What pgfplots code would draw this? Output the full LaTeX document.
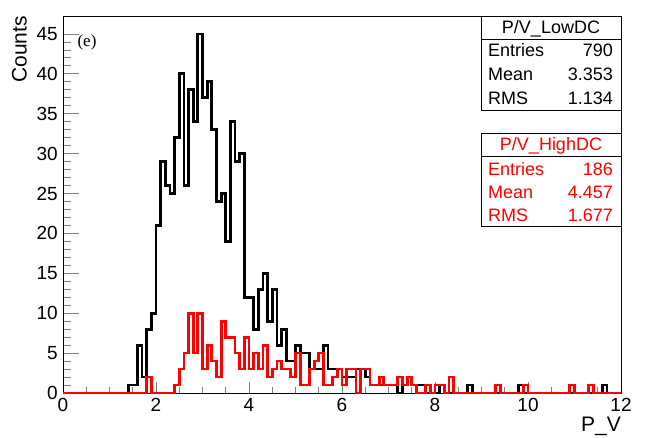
\documentclass[border=0pt]{standalone}
\usepackage{fontspec}
\setmainfont{Liberation Sans}
\newfontfamily\rootserif{Liberation Serif}
\usepackage{pgfplots}
\pgfplotsset{compat=1.18}
\begin{document}
\begin{tikzpicture}[x=1pt,y=1pt]
\path[use as bounding box] (0,0) rectangle (646,438);
\begin{axis}[
  at={(63pt,45pt)}, anchor=south west,
  scale only axis, width=558pt, height=377pt,
  xmin=0, xmax=12, ymin=0, ymax=47.25,
  xtick={0,2,...,12}, ytick={0,5,...,45},
  minor x tick num=3, minor y tick num=4,
  tick align=inside, xtick pos=bottom, ytick pos=left,
  xtick style={/pgfplots/major tick length=11pt,/pgfplots/minor tick length=5.5pt, line width=0.8pt},
  ytick style={/pgfplots/major tick length=16pt,/pgfplots/minor tick length=8pt, line width=0.8pt},
  axis line style={line width=0.9pt},
  /pgf/number format/assume math mode=true,
  tick label style={font=\fontsize{19}{19}\selectfont},
  yticklabel style={inner sep=0pt, xshift=-5pt},
  xticklabel style={inner sep=0pt, yshift=-5pt},
  clip=false,
]
% P/V_LowDC (black)
\addplot[const plot, black, line width=2.8pt, line join=miter] coordinates {
(0,0) (1.4,1) (1.5,1) (1.6,6) (1.7,2) (1.8,8) (1.9,10) (2.0,21) (2.1,29) (2.2,26)
(2.3,25) (2.4,32) (2.5,40) (2.6,26) (2.7,38) (2.8,34) (2.9,45) (3.0,37) (3.1,39) (3.2,33)
(3.3,24) (3.4,25) (3.5,19) (3.6,34) (3.7,29) (3.8,30) (3.9,12) (4.0,12) (4.1,8) (4.2,13)
(4.3,15) (4.4,9) (4.5,13) (4.6,6) (4.7,8) (4.8,4) (4.9,4) (5.0,6) (5.1,5) (5.2,5)
(5.3,3) (5.4,3) (5.5,3) (5.6,6) (5.7,3) (5.8,3) (5.9,3) (6.0,2) (6.1,2) (6.2,2)
(6.3,3) (6.4,3) (6.5,2) (6.6,1) (6.7,1) (6.8,1) (6.9,1) (7.0,1) (7.1,1) (7.2,0)
(7.3,1) (7.4,2) (7.5,1) (7.6,1) (7.7,1) (7.8,0) (8.1,1) (8.2,0) (8.7,1) (8.8,0)
(9.8,1) (9.9,0) (11.6,1) (11.7,0) (12,0)
};
% P/V_HighDC (red)
\addplot[const plot, red, line width=2.8pt, line join=miter] coordinates {
(0,0) (1.8,2) (1.9,0) (2.4,1) (2.5,3) (2.6,5) (2.7,10) (2.8,5) (2.9,10) (3.0,3)
(3.1,6) (3.2,4) (3.3,2) (3.4,9) (3.5,7) (3.6,7) (3.7,5) (3.8,3) (3.9,7) (4.0,3)
(4.1,5) (4.2,3) (4.3,6) (4.4,2) (4.5,3) (4.6,4) (4.7,3) (4.8,3) (4.9,2) (5.0,5)
(5.1,1) (5.2,1) (5.3,3) (5.4,4) (5.5,5) (5.6,1) (5.7,1) (5.8,2) (5.9,3) (6.0,1)
(6.1,3) (6.2,3) (6.3,0) (6.4,3) (6.5,3) (6.6,1) (6.7,1) (6.8,2) (6.9,1) (7.0,1)
(7.1,1) (7.2,2) (7.3,1) (7.4,2) (7.5,1) (7.6,0) (7.8,1) (7.9,0) (8.0,1) (8.1,1)
(8.2,0) (8.3,2) (8.4,0) (9.3,1) (9.4,0) (9.9,1) (10.0,0) (10.9,1) (11.0,0) (11.3,1)
(11.4,0) (12,0)
};
\end{axis}
% axis titles
\node[rotate=90, anchor=south east, inner sep=0pt, font=\fontsize{21}{21}\selectfont] at (27,422) {Counts};
\node[anchor=base east, inner sep=0pt, font=\fontsize{21}{21}\selectfont] at (621,6) {P\_V};
\node[anchor=center, inner sep=0pt, font=\rootserif\fontsize{17}{17}\selectfont] at (87,396) {(e)};
% stat box 1
\draw[line width=0.8pt, fill=white] (481,328) rectangle (621,422);
\draw[line width=0.8pt] (481,398.5) -- (621,398.5);
\begin{scope}[every node/.style={inner sep=0pt, font=\fontsize{18}{18}\selectfont}]
\node[anchor=base] at (551,404) {P/V\_LowDC};
\node[anchor=base west] at (488,381) {Entries};
\node[anchor=base east] at (613,381) {790};
\node[anchor=base west] at (488,357) {Mean};
\node[anchor=base east] at (613,357) {3.353};
\node[anchor=base west] at (488,333) {RMS};
\node[anchor=base east] at (613,333) {1.134};
\end{scope}
% stat box 2
\draw[line width=0.8pt, fill=white] (481,212) rectangle (621,305);
\draw[line width=0.8pt] (481,282) -- (621,282);
\begin{scope}[every node/.style={inner sep=0pt, text=red, font=\fontsize{18}{18}\selectfont}]
\node[anchor=base] at (551,287.5) {P/V\_HighDC};
\node[anchor=base west] at (488,262.5) {Entries};
\node[anchor=base east] at (613,262.5) {186};
\node[anchor=base west] at (488,239.5) {Mean};
\node[anchor=base east] at (613,239.5) {4.457};
\node[anchor=base west] at (488,216.5) {RMS};
\node[anchor=base east] at (613,216.5) {1.677};
\end{scope}
\end{tikzpicture}
\end{document}
